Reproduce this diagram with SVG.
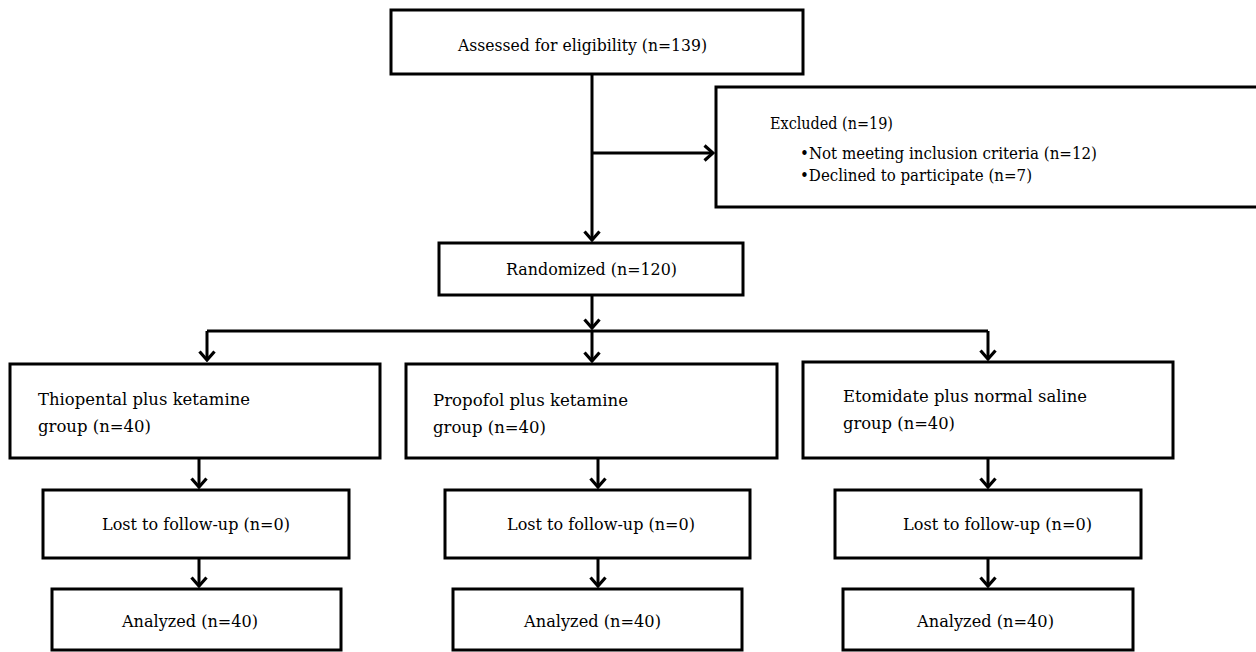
<svg xmlns="http://www.w3.org/2000/svg" width="1256" height="652" viewBox="0 0 1256 652">
<style>
.box{fill:#fff;stroke:#000;stroke-width:3}
.t{font-family:"DejaVu Serif","Liberation Serif",serif;font-size:17px;fill:#000}
.c{fill:none;stroke:#000;stroke-width:3}
</style>
<defs>
<marker id="ah" markerUnits="userSpaceOnUse" viewBox="-12 -10 14 20" refX="0" refY="0" markerWidth="14" markerHeight="20" orient="auto">
<path d="M-8.5,-7.5 L0,0 L-8.5,7.5" fill="none" stroke="#000" stroke-width="3.2" stroke-linejoin="miter"/>
</marker>
</defs>
<rect width="1256" height="652" fill="#fff"/>
<g id="connectors">
<path class="c" d="M592,74 V240" marker-end="url(#ah)"/>
<path class="c" d="M592,153 H713" marker-end="url(#ah)"/>
<path class="c" d="M592,295 V328" marker-end="url(#ah)"/>
<path class="c" d="M207,331 H988"/>
<path class="c" d="M207,331 V360" marker-end="url(#ah)"/>
<path class="c" d="M592,331 V361" marker-end="url(#ah)"/>
<path class="c" d="M988,331 V359" marker-end="url(#ah)"/>
<path class="c" d="M199,458 V487" marker-end="url(#ah)"/>
<path class="c" d="M199,558 V586" marker-end="url(#ah)"/>
<path class="c" d="M598,458 V487" marker-end="url(#ah)"/>
<path class="c" d="M598,558 V586" marker-end="url(#ah)"/>
<path class="c" d="M988,458 V487" marker-end="url(#ah)"/>
<path class="c" d="M988,558 V586" marker-end="url(#ah)"/>
</g>
<g id="assessed">
<rect class="box" x="391" y="10" width="412" height="64"/>
<text class="t" x="458" y="51" textLength="249" lengthAdjust="spacingAndGlyphs">Assessed for eligibility (n=139)</text>
</g>
<g id="excluded">
<rect class="box" x="716" y="87" width="560" height="120"/>
<text class="t" x="770" y="129" textLength="123" lengthAdjust="spacingAndGlyphs">Excluded (n=19)</text>
<text class="t" x="800" y="159" textLength="297" lengthAdjust="spacingAndGlyphs">•Not meeting inclusion criteria (n=12)</text>
<text class="t" x="800" y="181" textLength="232" lengthAdjust="spacingAndGlyphs">•Declined to participate (n=7)</text>
</g>
<g id="randomized">
<rect class="box" x="439" y="243" width="304" height="52"/>
<text class="t" x="506" y="275" textLength="171" lengthAdjust="spacingAndGlyphs">Randomized (n=120)</text>
</g>
<g id="group-thiopental">
<rect class="box" x="10" y="364" width="370" height="94"/>
<text class="t" x="38" y="405" textLength="212" lengthAdjust="spacingAndGlyphs">Thiopental plus ketamine</text>
<text class="t" x="38" y="432" textLength="113" lengthAdjust="spacingAndGlyphs">group (n=40)</text>
</g>
<g id="group-propofol">
<rect class="box" x="406" y="364" width="371" height="94"/>
<text class="t" x="433" y="406" textLength="195" lengthAdjust="spacingAndGlyphs">Propofol plus ketamine</text>
<text class="t" x="433" y="433" textLength="113" lengthAdjust="spacingAndGlyphs">group (n=40)</text>
</g>
<g id="group-etomidate">
<rect class="box" x="803" y="362" width="370" height="96"/>
<text class="t" x="843" y="402" textLength="244" lengthAdjust="spacingAndGlyphs">Etomidate plus normal saline</text>
<text class="t" x="843" y="429" textLength="112" lengthAdjust="spacingAndGlyphs">group (n=40)</text>
</g>
<g id="lost-1">
<rect class="box" x="43" y="490" width="306" height="68"/>
<text class="t" x="102" y="530" textLength="188" lengthAdjust="spacingAndGlyphs">Lost to follow-up (n=0)</text>
</g>
<g id="lost-2">
<rect class="box" x="445" y="490" width="305" height="68"/>
<text class="t" x="507" y="530" textLength="188" lengthAdjust="spacingAndGlyphs">Lost to follow-up (n=0)</text>
</g>
<g id="lost-3">
<rect class="box" x="835" y="490" width="306" height="68"/>
<text class="t" x="903" y="530" textLength="189" lengthAdjust="spacingAndGlyphs">Lost to follow-up (n=0)</text>
</g>
<g id="analyzed-1">
<rect class="box" x="52" y="589" width="289" height="61"/>
<text class="t" x="122" y="627" textLength="136" lengthAdjust="spacingAndGlyphs">Analyzed (n=40)</text>
</g>
<g id="analyzed-2">
<rect class="box" x="453" y="589" width="289" height="61"/>
<text class="t" x="524" y="627" textLength="137" lengthAdjust="spacingAndGlyphs">Analyzed (n=40)</text>
</g>
<g id="analyzed-3">
<rect class="box" x="843" y="589" width="290" height="61"/>
<text class="t" x="917" y="627" textLength="137" lengthAdjust="spacingAndGlyphs">Analyzed (n=40)</text>
</g>
</svg>
